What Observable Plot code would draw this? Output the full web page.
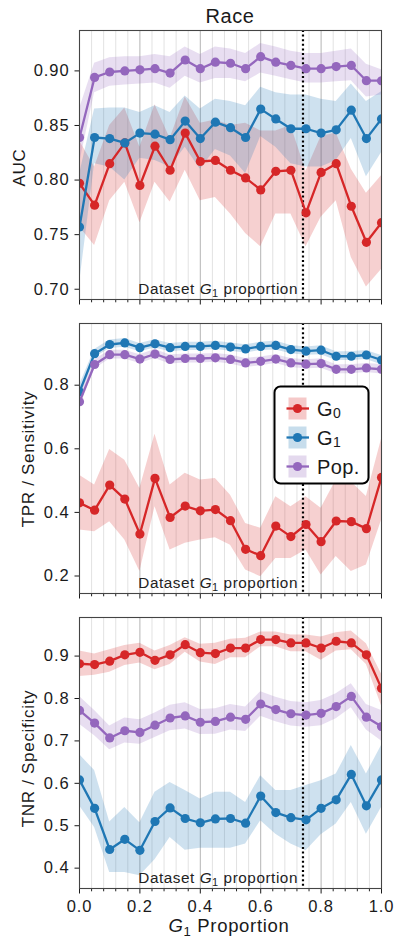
<!DOCTYPE html>
<html><head><meta charset="utf-8">
<script src="https://cdn.jsdelivr.net/npm/d3@7"></script>
<script src="https://cdn.jsdelivr.net/npm/@observablehq/plot@0.6"></script>
<style>
body{margin:0;background:#fff;}
#wrap{position:relative;width:395px;height:940px;overflow:hidden;}
#wrap > svg{position:absolute;left:0;}
svg.panel text{font-family:"Liberation Sans", Arial, Helvetica, sans-serif !important;font-size:16.5px !important;letter-spacing:0.9px;fill:#1a1a1a;}
</style>
</head><body><div id="wrap"></div>
<script>
// ---------- data ----------
const props = [0, 0.05, 0.1, 0.15, 0.2, 0.25, 0.3, 0.35, 0.4, 0.45, 0.5, 0.55, 0.6, 0.65, 0.7, 0.75, 0.8, 0.85, 0.9, 0.95, 1.0];
const datasetProp = 0.74;
const seriesNames = ["G0", "G1", "Pop."];

// AUC
const aucG0   = [0.797,0.777,0.815,0.834,0.795,0.831,0.809,0.843,0.817,0.818,0.809,0.802,0.791,0.808,0.809,0.770,0.807,0.815,0.776,0.743,0.761];
const aucG0Lo = [0.757,0.740,0.781,0.798,0.761,0.798,0.780,0.809,0.781,0.784,0.769,0.751,0.739,0.769,0.769,0.739,0.766,0.781,0.729,0.702,0.718];
const aucG0Hi = [0.836,0.812,0.850,0.866,0.830,0.869,0.838,0.876,0.852,0.855,0.850,0.852,0.845,0.845,0.850,0.808,0.840,0.843,0.810,0.788,0.804];
const aucG1   = [0.757,0.839,0.838,0.834,0.843,0.842,0.837,0.854,0.838,0.853,0.848,0.839,0.865,0.856,0.847,0.847,0.843,0.846,0.864,0.838,0.856];
const aucG1Lo = [0.705,0.815,0.812,0.800,0.820,0.818,0.812,0.830,0.810,0.828,0.822,0.806,0.840,0.830,0.815,0.812,0.812,0.818,0.838,0.803,0.825];
const aucG1Hi = [0.805,0.865,0.866,0.866,0.862,0.868,0.862,0.877,0.865,0.874,0.872,0.868,0.885,0.880,0.878,0.878,0.874,0.872,0.888,0.872,0.881];
const aucPop   = [0.839,0.894,0.899,0.900,0.901,0.902,0.898,0.910,0.902,0.908,0.907,0.902,0.913,0.908,0.905,0.902,0.902,0.904,0.905,0.891,0.891];
const aucPopLo = [0.815,0.880,0.886,0.887,0.888,0.889,0.884,0.895,0.889,0.893,0.893,0.890,0.898,0.895,0.892,0.889,0.889,0.890,0.891,0.876,0.878];
const aucPopHi = [0.865,0.907,0.912,0.913,0.913,0.915,0.913,0.922,0.915,0.922,0.920,0.916,0.925,0.922,0.918,0.916,0.916,0.918,0.920,0.906,0.901];

// TPR / Sensitivity
const tprG0   = [0.430,0.407,0.486,0.442,0.332,0.507,0.384,0.420,0.405,0.409,0.374,0.284,0.264,0.357,0.324,0.362,0.308,0.373,0.371,0.349,0.510];
const tprG0Lo = [0.345,0.339,0.371,0.313,0.214,0.418,0.282,0.303,0.313,0.320,0.297,0.219,0.198,0.255,0.255,0.282,0.203,0.261,0.214,0.235,0.375];
const tprG0Hi = [0.517,0.486,0.598,0.564,0.475,0.646,0.486,0.523,0.502,0.507,0.454,0.365,0.350,0.449,0.418,0.449,0.413,0.502,0.496,0.450,0.630];
const tprG1   = [0.779,0.899,0.928,0.933,0.918,0.930,0.918,0.922,0.922,0.925,0.920,0.914,0.922,0.925,0.912,0.907,0.910,0.891,0.891,0.895,0.879];
const tprG1Lo = [0.760,0.886,0.915,0.919,0.905,0.917,0.905,0.909,0.909,0.912,0.907,0.901,0.909,0.911,0.899,0.894,0.896,0.878,0.878,0.881,0.864];
const tprG1Hi = [0.800,0.912,0.942,0.947,0.931,0.943,0.931,0.935,0.935,0.938,0.933,0.927,0.935,0.939,0.925,0.920,0.924,0.905,0.905,0.909,0.893];
const tprPop   = [0.748,0.865,0.896,0.896,0.882,0.898,0.881,0.884,0.884,0.886,0.881,0.870,0.875,0.882,0.870,0.866,0.868,0.850,0.850,0.854,0.850];
const tprPopLo = [0.728,0.851,0.882,0.882,0.868,0.884,0.867,0.870,0.870,0.872,0.867,0.856,0.861,0.868,0.856,0.852,0.853,0.836,0.836,0.840,0.835];
const tprPopHi = [0.768,0.879,0.910,0.910,0.896,0.912,0.895,0.898,0.898,0.900,0.895,0.884,0.889,0.896,0.884,0.880,0.883,0.864,0.864,0.868,0.865];

// TNR / Specificity
const tnrG0   = [0.882,0.880,0.888,0.903,0.909,0.890,0.903,0.927,0.908,0.906,0.919,0.919,0.939,0.939,0.931,0.931,0.919,0.935,0.931,0.903,0.824];
const tnrG0Lo = [0.852,0.855,0.862,0.878,0.884,0.868,0.880,0.909,0.886,0.880,0.896,0.896,0.922,0.922,0.910,0.910,0.890,0.912,0.915,0.880,0.783];
const tnrG0Hi = [0.912,0.905,0.915,0.925,0.930,0.912,0.925,0.943,0.928,0.930,0.940,0.942,0.957,0.957,0.950,0.950,0.945,0.955,0.959,0.929,0.858];
const tnrG1   = [0.608,0.541,0.444,0.468,0.442,0.510,0.542,0.517,0.507,0.516,0.517,0.506,0.570,0.531,0.519,0.514,0.541,0.561,0.621,0.547,0.608];
const tnrG1Lo = [0.547,0.496,0.390,0.390,0.382,0.420,0.472,0.442,0.447,0.447,0.447,0.457,0.512,0.480,0.457,0.441,0.479,0.504,0.555,0.480,0.543];
const tnrG1Hi = [0.668,0.630,0.509,0.543,0.507,0.579,0.602,0.583,0.563,0.579,0.579,0.555,0.618,0.583,0.583,0.595,0.606,0.622,0.689,0.622,0.689];
const tnrPop   = [0.772,0.742,0.707,0.724,0.720,0.737,0.754,0.759,0.744,0.746,0.756,0.751,0.787,0.774,0.764,0.761,0.765,0.781,0.805,0.756,0.734];
const tnrPopLo = [0.739,0.712,0.679,0.695,0.692,0.708,0.724,0.728,0.715,0.716,0.726,0.722,0.758,0.745,0.735,0.732,0.736,0.752,0.778,0.726,0.700];
const tnrPopHi = [0.805,0.772,0.735,0.754,0.750,0.766,0.784,0.790,0.774,0.776,0.786,0.780,0.816,0.803,0.793,0.790,0.795,0.811,0.835,0.786,0.772];

// ticks
const xMajorTicks = [0, 0.2, 0.4, 0.6, 0.8, 1.0];
const xMinorTicks = [0.04,0.08,0.12,0.16,0.24,0.28,0.32,0.36,0.44,0.48,0.52,0.56,0.64,0.68,0.72,0.76,0.84,0.88,0.92,0.96];
const aucTicks = [0.70, 0.75, 0.80, 0.85, 0.90];
const tprTicks = [0.2, 0.4, 0.6, 0.8];
const tnrTicks = [0.4, 0.5, 0.6, 0.7, 0.8, 0.9];

// ---------- styling ----------
const FONT = '"Liberation Sans", Arial, Helvetica, sans-serif';
const COLORS = {"G0": "#d62728", "G1": "#1f77b4", "Pop.": "#9467bd"};
const INK = "#1a1a1a";

function rows(name, v, lo, hi) {
  return props.map((x, i) => ({x, y: v[i], lo: lo[i], hi: hi[i], s: name}));
}

function panel({data, yDomain, yTicks, yFmt, top, marginTop, frameH, marginBottom, showX}) {
  const height = marginTop + frameH + marginBottom;
  const tickLen = (yDomain[1] - yDomain[0]) / frameH * 3.3;
  const marks = [
    Plot.ruleX(xMinorTicks, {stroke: "#e2e2e2", strokeWidth: 1}),
    Plot.ruleX(xMajorTicks.slice(1, -1), {stroke: "#b4b4b4", strokeWidth: 1}),
    ...data.map(d => Plot.areaY(d, {x: "x", y1: "lo", y2: "hi", fill: COLORS[d[0].s], fillOpacity: 0.22, clip: true})),
    Plot.ruleX([datasetProp], {stroke: "#000", strokeWidth: 2.2, strokeDasharray: "2,2.6"}),
    ...data.flatMap(d => [
      Plot.lineY(d, {x: "x", y: "y", stroke: COLORS[d[0].s], strokeWidth: 2.3, clip: true}),
      Plot.dot(d, {x: "x", y: "y", fill: COLORS[d[0].s], r: 4.6, clip: true})
    ]),
    Plot.ruleX(xMinorTicks, {y1: yDomain[0], y2: yDomain[0] - tickLen, stroke: "#222", strokeWidth: 1}),
    Plot.frame({stroke: "#444", strokeWidth: 1.1})
  ];
  const p = Plot.plot({
    width: 395, height, marginLeft: 79, marginRight: 14, marginTop, marginBottom,
    style: {fontFamily: FONT, fontSize: "16.5px", color: INK, background: "transparent", overflow: "visible"},
    x: {domain: [0, 1], ticks: xMajorTicks, tickFormat: showX ? d3.format(".1f") : () => "", tickSize: 5.5, tickPadding: 6, label: null},
    y: {domain: yDomain, ticks: yTicks, tickFormat: d3.format(yFmt), tickSize: 4.5, tickPadding: 5.5, label: null},
    marks
  });
  p.classList.add("panel");
  p.style.top = top + "px";
  document.getElementById("wrap").appendChild(p);
  return {p, top, marginTop, frameH};
}

const panels = [
  panel({data: [rows("G0", aucG0, aucG0Lo, aucG0Hi), rows("G1", aucG1, aucG1Lo, aucG1Hi), rows("Pop.", aucPop, aucPopLo, aucPopHi)],
         yDomain: [0.6906, 0.937], yTicks: aucTicks, yFmt: ".2f", top: 0, marginTop: 30, frameH: 269, marginBottom: 11, showX: false}),
  panel({data: [rows("G0", tprG0, tprG0Lo, tprG0Hi), rows("G1", tprG1, tprG1Lo, tprG1Hi), rows("Pop.", tprPop, tprPopLo, tprPopHi)],
         yDomain: [0.145, 0.994], yTicks: tprTicks, yFmt: ".1f", top: 310, marginTop: 13, frameH: 270, marginBottom: 10, showX: false}),
  panel({data: [rows("G0", tnrG0, tnrG0Lo, tnrG0Hi), rows("G1", tnrG1, tnrG1Lo, tnrG1Hi), rows("Pop.", tnrPop, tnrPopLo, tnrPopHi)],
         yDomain: [0.352, 0.991], yTicks: tnrTicks, yFmt: ".1f", top: 603, marginTop: 14, frameH: 271, marginBottom: 30, showX: true})
];

// ---------- overlay text & legend ----------
const ov = d3.select("#wrap").append("svg")
  .attr("width", 395).attr("height", 940)
  .style("top", "0px").style("pointer-events", "none")
  .style("font-family", FONT).attr("fill", INK);

ov.append("text").attr("x", 230).attr("y", 22.5).attr("text-anchor", "middle")
  .attr("font-size", 20).attr("letter-spacing", 0.6).text("Race");

const yLabels = ["AUC", "TPR / Sensitivity", "TNR / Specificity"];
const yLabelX = [25, 34, 34];
panels.forEach((pp, i) => {
  const cy = pp.top + pp.marginTop + pp.frameH / 2 + (i === 0 ? 3 : (i === 2 ? 6 : 1));
  ov.append("text").attr("transform", `translate(${yLabelX[i]},${cy}) rotate(-90)`)
    .attr("text-anchor", "middle").attr("font-size", 17).attr("letter-spacing", 0.7).text(yLabels[i]);
  // dataset proportion annotation
  const xs = pp.p.scale("x");
  const ysc = pp.p.scale("y");
  const px = xs.apply(datasetProp);
  const py = pp.top + ysc.apply(ysc.domain[0]) - 5;
  const t = ov.append("text").attr("x", px - 4.5).attr("y", py).attr("text-anchor", "end")
    .attr("font-size", 15.3).attr("letter-spacing", 0.55).attr("fill", "#222");
  t.append("tspan").text("Dataset ");
  t.append("tspan").attr("font-style", "italic").text("G");
  t.append("tspan").attr("font-size", 11).attr("dy", 3).text("1");
  t.append("tspan").attr("dy", -3).text(" proportion");
});

// x-axis label
{
  const t = ov.append("text").attr("x", 229).attr("y", 931.5).attr("text-anchor", "middle")
    .attr("font-size", 18.5).attr("letter-spacing", 0.7);
  t.append("tspan").attr("font-style", "italic").text("G");
  t.append("tspan").attr("font-size", 13).attr("dy", 4).text("1");
  t.append("tspan").attr("dy", -4).text(" Proportion");
}

// legend
{
  const lg = ov.append("g");
  lg.append("rect").attr("x", 274.5).attr("y", 386.5).attr("width", 94).attr("height", 97)
    .attr("rx", 6).attr("fill", "#fff").attr("stroke", "#000").attr("stroke-width", 2);
  const itemY = [408.5, 437.5, 466.5];
  const subs = ["0", "1", null];
  seriesNames.forEach((s, i) => {
    const c = COLORS[s], y = itemY[i];
    lg.append("rect").attr("x", 288.5).attr("y", y - 11).attr("width", 18).attr("height", 22)
      .attr("fill", c).attr("fill-opacity", 0.25);
    lg.append("line").attr("x1", 286.5).attr("x2", 309).attr("y1", y).attr("y2", y)
      .attr("stroke", c).attr("stroke-width", 2.3);
    lg.append("circle").attr("cx", 297.5).attr("cy", y).attr("r", 4.6).attr("fill", c);
    const t = lg.append("text").attr("x", 317).attr("y", y + 7).attr("font-size", 20).attr("letter-spacing", 0.4);
    if (subs[i] !== null) {
      t.append("tspan").text("G");
      t.append("tspan").attr("font-size", 14).attr("dy", 2).text(subs[i]);
    } else {
      t.text(s);
    }
  });
}
</script>
</body></html>
